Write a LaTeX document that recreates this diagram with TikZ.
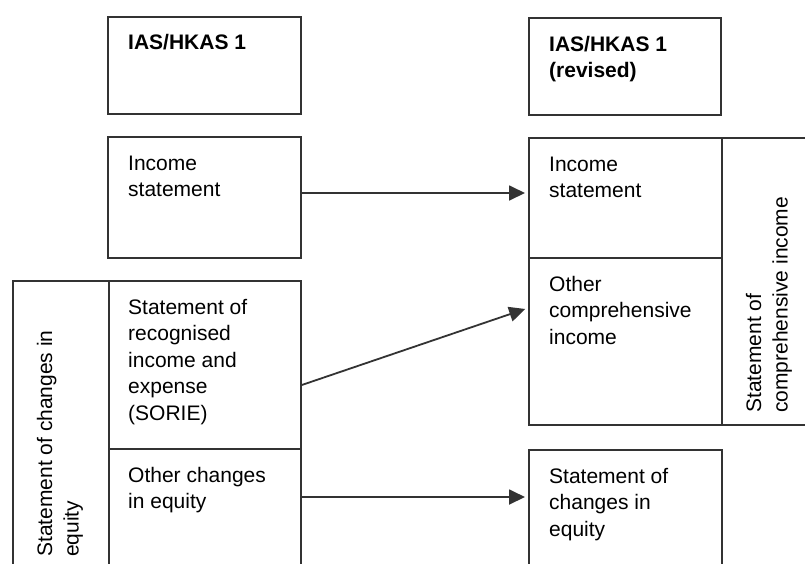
\documentclass[tikz,border=0pt]{standalone}
\usepackage{fontspec}
\setmainfont{Liberation Sans}
\usetikzlibrary{arrows.meta}
\definecolor{linec}{HTML}{333333}
\newcommand\mylines[1]{\begin{tabular}[t]{@{}l@{}}#1\end{tabular}}
\begin{document}
\begin{tikzpicture}[x=1pt,y=-1pt,
  box/.style={draw=linec, line width=1.8pt, inner sep=0pt, anchor=north west},
  txt/.style={anchor=base west, inner sep=0pt, text=black, font=\fontsize{21}{26.5}\selectfont},
  conn/.style={draw=linec, line width=1.8pt, shorten >=3pt, -{Triangle[length=16pt,width=15pt]}}]
\useasboundingbox (0,0) rectangle (805,563);
% left column boxes
\node[box, minimum width=193pt, minimum height=97pt]  (ias1)  at (107,16)  {};
\node[box, minimum width=193pt, minimum height=121pt] (inc1)  at (107,136) {};
\node[box, minimum width=96pt,  minimum height=300pt] (soce1) at (12,280)  {};
\node[box, minimum width=192pt, minimum height=168pt] (sorie) at (108,280) {};
\node[box, minimum width=192pt, minimum height=130pt] (oce)   at (108,448) {};
% right column boxes
\node[box, minimum width=192pt, minimum height=97pt]  (ias2)  at (528,17)  {};
\node[box, minimum width=193pt, minimum height=120pt] (inc2)  at (528,137) {};
\node[box, minimum width=193pt, minimum height=167pt] (oci)   at (528,257) {};
\node[box, minimum width=100pt, minimum height=287pt] (soci)  at (721,137) {};
\node[box, minimum width=193pt, minimum height=130pt] (soce2) at (528,449) {};
% texts
\node[txt] (t-ias1)  at (128,49)  {\bfseries IAS/HKAS 1};
\node[txt] (t-inc1)  at (128,170) {\mylines{Income\\statement}};
\node[txt] (t-sorie) at (128,314) {\mylines{Statement of\\recognised\\income and\\expense\\(SORIE)}};
\node[txt] (t-oce)   at (128,482) {\mylines{Other changes\\in equity}};
\node[txt] (t-ias2)  at (549,51)  {\bfseries\mylines{IAS/HKAS 1\\(revised)}};
\node[txt] (t-inc2)  at (549,171) {\mylines{Income\\statement}};
\node[txt] (t-oci)   at (549,291) {\mylines{Other\\comprehensive\\income}};
\node[txt] (t-soce2) at (549,483) {\mylines{Statement of\\changes in\\equity}};
\node[txt, rotate=90] (t-soce1) at (52,557)  {\mylines{Statement of changes in\\equity}};
\node[txt, rotate=90] (t-soci)  at (761,413) {\mylines{Statement of\\comprehensive income}};
% connectors
\draw[conn] (inc1.east |- 0,193)  -- (inc2.west |- 0,193);
\draw[conn] (sorie.east |- 0,385) -- (oci.west |- 0,308);
\draw[conn] (oce.east |- 0,497)   -- (soce2.west |- 0,497);
\end{tikzpicture}
\end{document}
